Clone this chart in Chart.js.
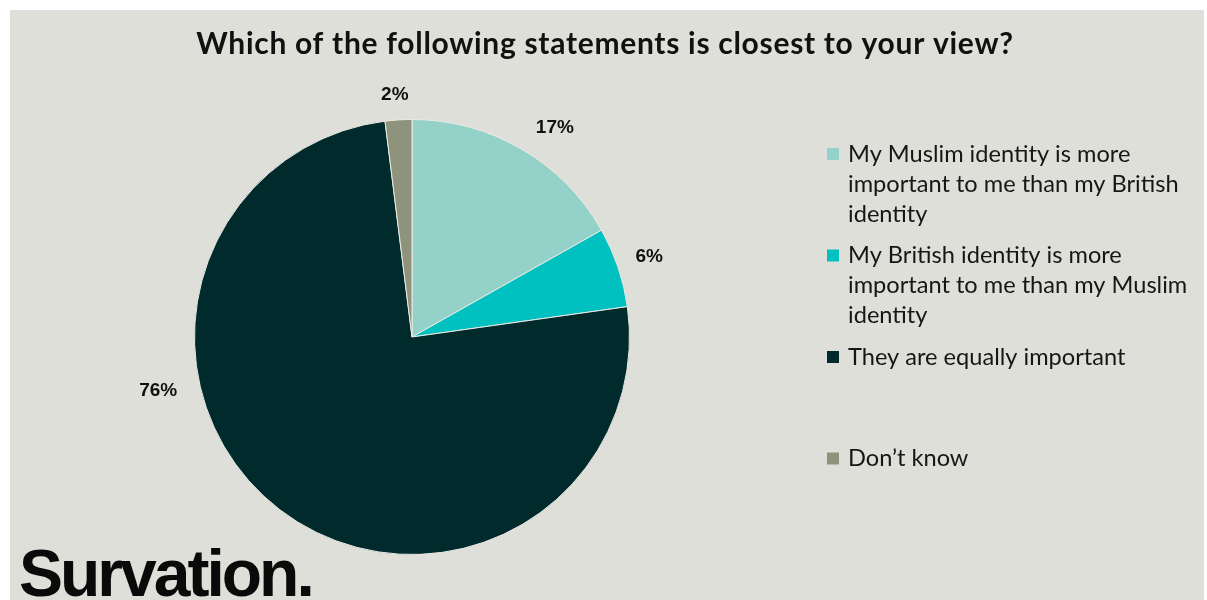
<!DOCTYPE html>
<html>
<head>
<meta charset="utf-8">
<title>Muslim and British identity</title>
<script src="https://cdn.jsdelivr.net/npm/chart.js@4/dist/chart.umd.min.js"></script>
<style>
  html, body { margin: 0; padding: 0; background: #ffffff; }
  #wrap { position: relative; width: 1207px; height: 600px; }
  canvas { display: block; }
</style>
</head>
<body>
<div id="wrap"><canvas id="chart" width="1207" height="600"></canvas></div>
<script>
// Survey question and answer options
const questionTitle = 'Which of the following statements is closest to your view?';
const categories = [
  'My Muslim identity is more important to me than my British identity',
  'My British identity is more important to me than my Muslim identity',
  'They are equally important',
  'Don\u2019t know'
];
// Legend text, pre-wrapped into lines
const legendLines = [
  ['My Muslim identity is more', 'important to me than my British', 'identity'],
  ['My British identity is more', 'important to me than my Muslim', 'identity'],
  ['They are equally important'],
  ['Don\u2019t know']
];
// Share of respondents (%)
const shares = [17, 6, 76, 2];
const sliceColors = ['#93d1c9', '#00c0c0', '#002a2c', '#8f937b'];
const brandName = 'Survation.';

// Panel background, title, logo
const backdropPlugin = {
  id: 'backdrop',
  beforeDraw(chart) {
    const ctx = chart.ctx;
    ctx.save();
    ctx.fillStyle = '#dfdfd9';
    ctx.fillRect(10, 10, 1194, 590);
    ctx.fillStyle = '#111111';
    ctx.font = '700 30px Lato';
    ctx.letterSpacing = '0.7px';
    ctx.textAlign = 'center';
    ctx.textBaseline = 'alphabetic';
    ctx.fillText(questionTitle, 605, 54);
    ctx.restore();
  },
  afterDraw(chart) {
    const ctx = chart.ctx;
    ctx.save();
    ctx.fillStyle = '#0a0a0a';
    ctx.font = '700 66px "Liberation Sans"';
    ctx.letterSpacing = '-3px';
    ctx.textAlign = 'left';
    ctx.textBaseline = 'alphabetic';
    ctx.fillText(brandName, 19, 596);
    ctx.restore();
  }
};

// Percentage labels outside each slice
const outsideLabelsPlugin = {
  id: 'outsideLabels',
  afterDatasetsDraw(chart, args, opts) {
    const ctx = chart.ctx;
    const meta = chart.getDatasetMeta(0);
    const values = chart.data.datasets[0].data;
    ctx.save();
    ctx.fillStyle = '#111111';
    ctx.font = '700 19px "Liberation Sans"';
    ctx.textAlign = 'center';
    ctx.textBaseline = 'middle';
    meta.data.forEach((arc, i) => {
      const p = arc.getProps(['x', 'y', 'startAngle', 'endAngle', 'outerRadius'], true);
      const place = opts.placement[i] || {};
      let ang = (p.startAngle + p.endAngle) / 2;
      if (place.angle !== undefined) ang = (place.angle - 90) * Math.PI / 180;
      else if (place.nudge) ang += place.nudge * Math.PI / 180;
      const d = p.outerRadius + (place.gap || 30);
      ctx.fillText(values[i] + '%', p.x + Math.cos(ang) * d, p.y + Math.sin(ang) * d);
    });
    ctx.restore();
  }
};

// Legend with wrapped text on the right
const sideLegendPlugin = {
  id: 'sideLegend',
  afterDraw(chart, args, opts) {
    const ctx = chart.ctx;
    const ds = chart.data.datasets[0];
    ctx.save();
    ctx.font = '400 23.6px Lato';
    ctx.textBaseline = 'middle';
    ctx.textAlign = 'left';
    legendLines.forEach((lines, i) => {
      const top = opts.y + i * opts.slot;
      ctx.fillStyle = ds.backgroundColor[i];
      ctx.fillRect(opts.x, top - 6, 12, 12);
      ctx.fillStyle = '#161616';
      lines.forEach((line, k) => {
        ctx.fillText(line, opts.x + 21, top + k * opts.lineHeight);
      });
    });
    ctx.restore();
  }
};

new Chart(document.getElementById('chart'), {
  type: 'pie',
  data: {
    labels: categories,
    datasets: [{
      data: shares,
      backgroundColor: sliceColors,
      borderColor: '#ebebe6',
      borderWidth: 1
    }]
  },
  options: {
    responsive: false,
    animation: false,
    layout: { padding: { left: 194, right: 577, top: 119, bottom: 45 } },
    plugins: {
      legend: { display: false },
      tooltip: { enabled: false },
      outsideLabels: {
        placement: [
          { nudge: 4, gap: 36 },
          { nudge: 0, gap: 33 },
          { angle: 258, gap: 42 },
          { nudge: -0.5, gap: 25 }
        ]
      },
      sideLegend: { x: 827, y: 154, slot: 101.5, lineHeight: 30 }
    }
  },
  plugins: [backdropPlugin, outsideLabelsPlugin, sideLegendPlugin]
});
</script>
</body>
</html>
